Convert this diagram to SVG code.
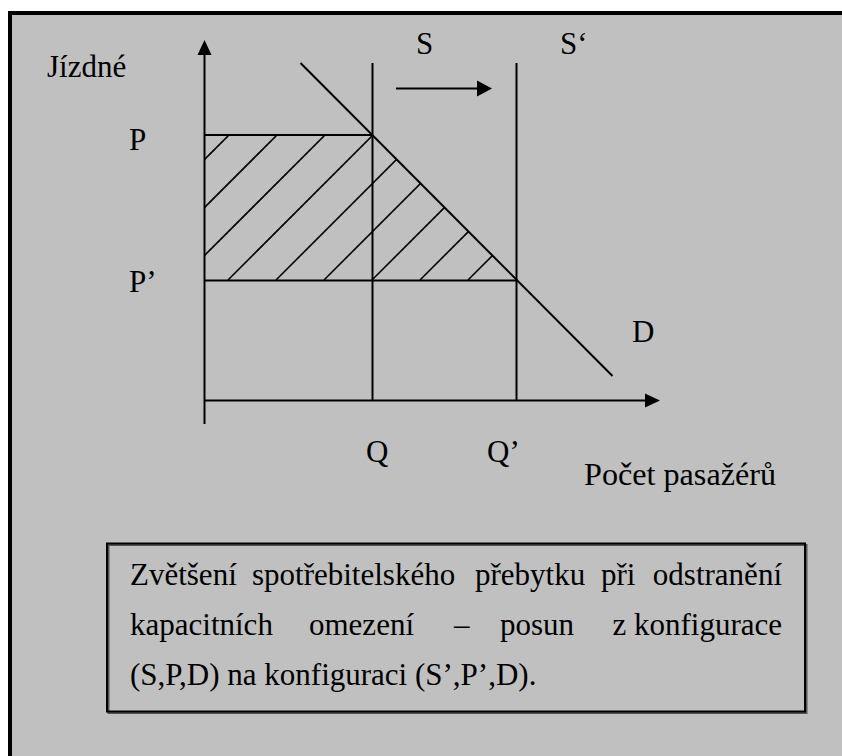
<svg xmlns="http://www.w3.org/2000/svg" width="842" height="756" viewBox="0 0 842 756">
<defs>
<style>
.t{font-family:"Liberation Serif","Times New Roman",serif;font-size:31px;fill:#000}
.c{font-family:"Liberation Serif","Times New Roman",serif;font-size:31px;fill:#000}
.ln{stroke:#000;stroke-width:2;fill:none}
.h{stroke:#000;stroke-width:1.6;fill:none}
</style>
<clipPath id="hatchClip"><polygon points="204.5,135 372.5,135 517,280.5 204.5,280.5"/></clipPath>
</defs>
<rect x="10" y="13" width="900" height="800" fill="#c0c0c0" stroke="#000" stroke-width="4"/>
<g id="hatch" clip-path="url(#hatchClip)">
<path class="h" d="M84,280 L384,-20 M132,280 L432,-20 M180,280 L480,-20 M228,280 L528,-20 M276,280 L576,-20 M324,280 L624,-20 M372,280 L672,-20 M420,280 L720,-20 M468,280 L768,-20"/>
</g>
<g id="connectors">
<line class="ln" x1="204.5" y1="424" x2="204.5" y2="54"/>
<polygon points="204.5,40 197.5,55 211.5,55" fill="#000"/>
<line class="ln" x1="204.5" y1="400.5" x2="646" y2="400.5"/>
<polygon points="660,400.5 645,393.5 645,407.5" fill="#000"/>
<line class="ln" x1="204.5" y1="135" x2="372.5" y2="135"/>
<line class="ln" x1="204.5" y1="280.5" x2="516.5" y2="280.5"/>
<line class="ln" x1="372.5" y1="63" x2="372.5" y2="400.5"/>
<line class="ln" x1="516.5" y1="63" x2="516.5" y2="400.5"/>
<line class="ln" x1="300.5" y1="63" x2="612.5" y2="376"/>
<line class="ln" x1="396" y1="88.5" x2="478" y2="88.5"/>
<polygon points="492,88.5 477,80.5 477,96.5" fill="#000"/>
</g>
<g id="labels">
<text class="t" x="47" y="77">Jízdné</text>
<text class="t" x="129" y="150">P</text>
<text class="t" x="129" y="292">P’</text>
<text class="t" x="416" y="54">S</text>
<text class="t" x="560" y="54">S‘</text>
<text class="t" x="632" y="342">D</text>
<text class="t" x="366" y="462">Q</text>
<text class="t" x="487" y="462">Q’</text>
<text class="t" x="584" y="485" textLength="192" lengthAdjust="spacingAndGlyphs">Počet pasažérů</text>
</g>
<g id="caption">
<rect x="108.5" y="545" width="698" height="168" fill="none" stroke="#555" stroke-width="2"/>
<rect x="107" y="543.5" width="698" height="168" fill="none" stroke="#000" stroke-width="2"/>
<text class="c" y="585"><tspan x="130">Zvětšení</tspan><tspan x="252">spotřebitelského</tspan><tspan x="475">přebytku</tspan><tspan x="601">při</tspan><tspan x="782" text-anchor="end">odstranění</tspan></text>
<text class="c" y="635"><tspan x="130">kapacitních</tspan><tspan x="309">omezení</tspan><tspan x="454">–</tspan><tspan x="500">posun</tspan><tspan x="782" text-anchor="end">z konfigurace</tspan></text>
<text class="c" x="130" y="685">(S,P,D) na konfiguraci (S’,P’,D).</text>
</g>
</svg>
